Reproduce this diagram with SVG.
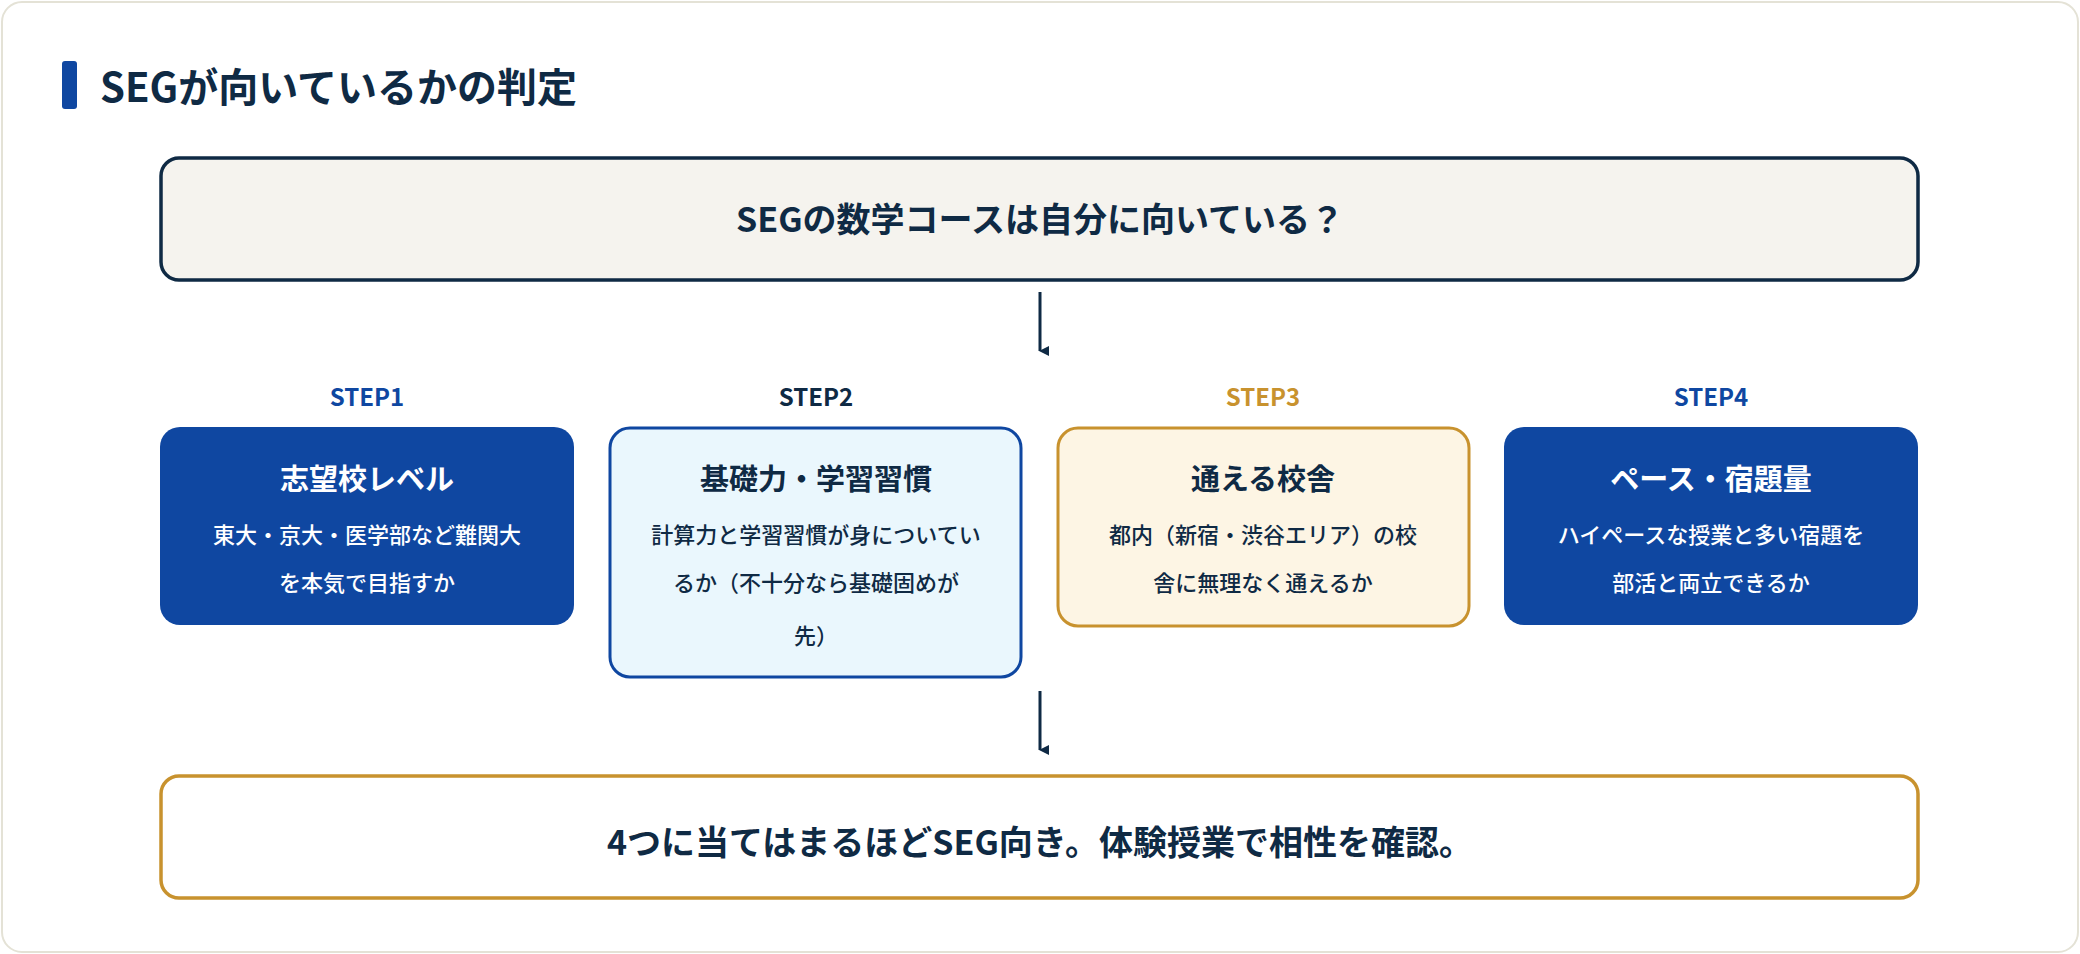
<svg xmlns="http://www.w3.org/2000/svg" width="2080" height="954" viewBox="0 0 2080 954">
<style>
text{font-family:"Noto Sans CJK JP","Noto Sans",sans-serif;text-anchor:middle}
.h{font-weight:700;font-size:34px;fill:#0f2a44}
.st{font-weight:700;font-size:24px}
.t{font-weight:700;font-size:29px}
.d{font-size:22px;font-weight:500}
.w{fill:#fff}.k{fill:#0f2a44}
.con{stroke:#0f2a44;stroke-width:3;fill:none}
</style>
<defs><marker id="ah" markerWidth="10" markerHeight="10" refX="5" refY="9" orient="auto" markerUnits="userSpaceOnUse" viewBox="0 0 10 10"><path d="M0,0L10,0L5,10z" fill="#0f2a44"/></marker></defs>
<rect x="2" y="2" width="2076" height="950" rx="20" fill="#fff" stroke="#e4e2d6" stroke-width="2"/>
<rect x="62" y="61" width="15" height="48" rx="3" fill="#0f47a1"/>
<text x="100" y="102" style="text-anchor:start;font-weight:700;font-size:40px;fill:#0f2a44">SEGが向いているかの判定</text>
<g id="question"><rect x="161" y="158" width="1757" height="122" rx="18" fill="#f5f3ee" stroke="#0f2a44" stroke-width="3.5"/><text class="h" x="1040" y="232">SEGの数学コースは自分に向いている？</text></g>
<g id="step1"><text class="st" x="367" y="406" fill="#0f47a1">STEP1</text><rect x="160" y="427" width="414" height="198" rx="20" fill="#0f47a1"/><text class="t w" x="367" y="490">志望校レベル</text><text class="d w" x="367" y="543">東大・京大・医学部など難関大</text><text class="d w" x="367" y="591">を本気で目指すか</text></g>
<g id="step2"><text class="st k" x="816" y="406">STEP2</text><rect x="610" y="428" width="411" height="249" rx="20" fill="#eaf7fd" stroke="#0f47a1" stroke-width="3"/><text class="t k" x="816" y="490">基礎力・学習習慣</text><text class="d k" x="816" y="543">計算力と学習習慣が身についてい</text><text class="d k" x="816" y="591">るか（不十分なら基礎固めが</text><text class="d k" x="816" y="644">先）</text></g>
<g id="step3"><text class="st" x="1263" y="406" fill="#c8922e">STEP3</text><rect x="1058" y="428" width="411" height="198" rx="20" fill="#fdf5e4" stroke="#c8922e" stroke-width="3"/><text class="t k" x="1263" y="490">通える校舎</text><text class="d k" x="1263" y="543">都内（新宿・渋谷エリア）の校</text><text class="d k" x="1263" y="591">舎に無理なく通えるか</text></g>
<g id="step4"><text class="st" x="1711" y="406" fill="#0f47a1">STEP4</text><rect x="1504" y="427" width="414" height="198" rx="20" fill="#0f47a1"/><text class="t w" x="1711" y="490">ペース・宿題量</text><text class="d w" x="1711" y="543">ハイペースな授業と多い宿題を</text><text class="d w" x="1711" y="591">部活と両立できるか</text></g>
<g id="result"><rect x="161" y="776" width="1757" height="122" rx="18" fill="#fff" stroke="#c8922e" stroke-width="3.5"/><text class="h" x="1040" y="855">4つに当てはまるほどSEG向き。体験授業で相性を確認。</text></g>
<g id="connectors"><line class="con" x1="1040" y1="292" x2="1040" y2="351" marker-end="url(#ah)"/><line class="con" x1="1040" y1="691" x2="1040" y2="750" marker-end="url(#ah)"/></g>
</svg>
